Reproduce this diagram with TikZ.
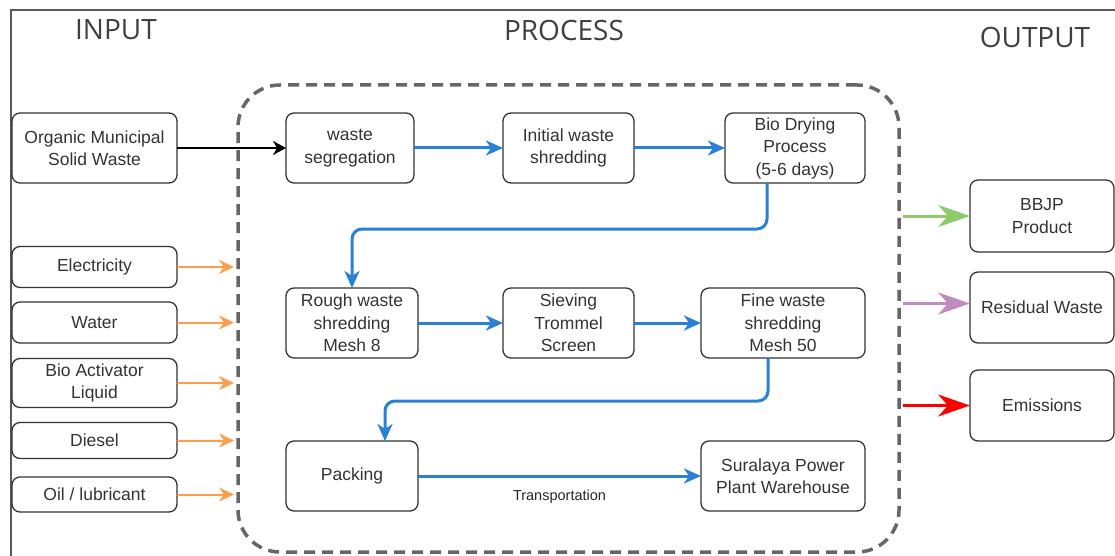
\documentclass[tikz,border=0pt]{standalone}
\usepackage{fontspec}
\setmainfont{Liberation Sans}
\newfontfamily\headfont{Open Sans}
\usetikzlibrary{arrows.meta}
\definecolor{flowblue}{HTML}{2A7FD6}
\definecolor{inorange}{HTML}{FF9E4A}
\definecolor{outgreen}{HTML}{8CCB6A}
\definecolor{outpurple}{HTML}{C08BC2}
\definecolor{outred}{HTML}{FF0000}
\definecolor{framegray}{HTML}{666666}
\tikzset{
	box/.style={draw=black!80, line width=1.3pt, rounded corners=8pt, align=center, inner sep=0pt, outer sep=0pt, font=\fontsize{17.5}{22.5}\selectfont, text=black!80},
	head/.style={font=\headfont\fontsize{28}{30}\selectfont, text=black!75},
	flow/.style={->, >={Stealth[length=17pt, width=15pt, inset=5pt]}, flowblue, line width=3pt},
	feed/.style={->, >={Stealth[length=15pt, width=14pt, inset=5pt]}, inorange, line width=2pt, shorten >=4pt},
	release/.style={->, >={Stealth[length=32pt, width=22pt, inset=10pt]}, line width=3pt, shorten <=4pt}
}
\begin{document}
\begin{tikzpicture}[x=1pt, y=-1pt]
		\useasboundingbox (0,0) rectangle (1115,556);
		% Frame
		\draw[black!65, line width=1.5pt] (1115,10) -- (11,10) -- (11,556);
		% Headings
		\node[head] (hin) at (116,30) {INPUT};
		\node[head] (hproc) at (564,30) {PROCESS};
		\node[head] (hout) at (1035,37) {OUTPUT};
		% Process boundary
		\node[draw=framegray, dash pattern=on 11pt off 7pt, line width=3.5pt, rounded corners=42pt, minimum width=661pt, minimum height=467pt, outer sep=0pt] (proc) at (568.5,318.5) {};
		% Inputs
		\node[box, minimum width=165pt, minimum height=70pt] (org) at (94.5,148) {Organic Municipal\\Solid Waste};
		\node[box, minimum width=165pt, minimum height=41pt] (elec) at (94.5,267) {Electricity};
		\node[box, minimum width=165pt, minimum height=41pt] (water) at (94.5,322.5) {Water};
		\node[box, minimum width=165pt, minimum height=49pt] (bioact) at (94.5,383) {Bio Activator\\Liquid};
		\node[box, minimum width=165pt, minimum height=36pt] (diesel) at (94.5,440.5) {Diesel};
		\node[box, minimum width=165pt, minimum height=35pt] (oil) at (94.5,494.5) {Oil / lubricant};
		% Process steps
		\node[box, minimum width=128pt, minimum height=70pt] (seg) at (350,148) {waste\\segregation};
		\node[box, minimum width=131pt, minimum height=70pt] (init) at (568.5,148) {Initial waste\\shredding};
		\node[box, minimum width=140pt, minimum height=70pt] (biodry) at (795,148) {Bio Drying\\Process\\(5-6 days)};
		\node[box, minimum width=132pt, minimum height=70pt] (rough) at (352,323) {Rough waste\\shredding\\Mesh 8};
		\node[box, minimum width=131pt, minimum height=70pt] (sieve) at (568.5,323) {Sieving\\Trommel\\Screen};
		\node[box, minimum width=164pt, minimum height=70pt] (fine) at (783,323) {Fine waste\\shredding\\Mesh 50};
		\node[box, minimum width=132pt, minimum height=70pt] (pack) at (352,476) {Packing};
		\node[box, minimum width=164pt, minimum height=70pt] (sural) at (783,476) {Suralaya Power\\Plant Warehouse};
		% Outputs
		\node[box, minimum width=144pt, minimum height=72pt] (bbjp) at (1042,216) {BBJP\\Product};
		\node[box, minimum width=144pt, minimum height=71pt] (resid) at (1042,307.5) {Residual Waste};
		\node[box, minimum width=144pt, minimum height=71pt] (emis) at (1042,405.5) {Emissions};
		% Connectors
		\draw[->, >={Stealth[length=13pt, width=14pt, inset=4pt]}, black, line width=1.5pt] (org) -- (seg);
		\foreach \src in {elec, water, bioact, diesel, oil}
			\draw[feed] (\src.east) -- (\src.east -| proc.west);
		\draw[flow] (seg) -- (init);
		\draw[flow] (init) -- (biodry);
		\draw[flow, rounded corners=10pt] ([xshift=-28pt]biodry.south) -- ++(0,46) -| (rough.north);
		\draw[flow] (rough) -- (sieve);
		\draw[flow] (sieve) -- (fine);
		\draw[flow, rounded corners=10pt] ([xshift=-15pt]fine.south) -- ++(0,43) -| ([xshift=33pt]pack.north);
		\draw[flow] (pack) -- node[below=9pt, font=\fontsize{14.5}{16}\selectfont, text=black!85] (trans) {Transportation} (sural);
		\draw[release, outgreen] (bbjp.west -| proc.east) -- (bbjp.west);
		\draw[release, outpurple] ([yshift=4pt]resid.west -| proc.east) -- ([yshift=4pt]resid.west);
		\draw[release, outred] (emis.west -| proc.east) -- (emis.west);
	\end{tikzpicture}
\end{document}
